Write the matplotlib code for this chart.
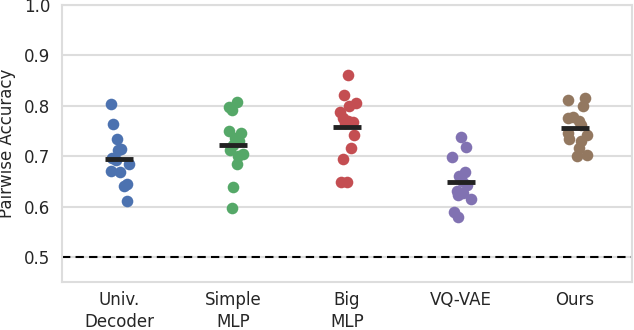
import numpy as np
import matplotlib
matplotlib.use("Agg")
import matplotlib.pyplot as plt
import seaborn as sns

categories = ["Univ.\nDecoder", "Simple\nMLP", "Big\nMLP", "VQ-VAE", "Ours"]
colors = ["#4C72B0", "#55A868", "#C44E52", "#8172B2", "#937860"]

# per-run accuracies
univ = [0.804, 0.763, 0.735, 0.715, 0.712, 0.697, 0.693, 0.684, 0.670, 0.669, 0.644, 0.640, 0.611]
simple = [0.808, 0.797, 0.792, 0.750, 0.745, 0.737, 0.730, 0.722, 0.713, 0.705, 0.700, 0.684, 0.638, 0.598]
big = [0.862, 0.822, 0.806, 0.800, 0.787, 0.775, 0.770, 0.767, 0.765, 0.741, 0.716, 0.694, 0.648, 0.648]
vqvae = [0.738, 0.718, 0.699, 0.668, 0.661, 0.650, 0.643, 0.630, 0.627, 0.622, 0.615, 0.590, 0.580]
ours = [0.815, 0.812, 0.800, 0.778, 0.775, 0.770, 0.762, 0.745, 0.742, 0.734, 0.731, 0.716, 0.703, 0.700]

# horizontal jitter of each point (as seen in the picture)
univ_jit = [-0.07, -0.05, -0.02, 0.02, -0.01, -0.06, -0.03, 0.09, -0.07, 0.01, 0.07, 0.04, 0.07]
simple_jit = [0.03, -0.04, -0.01, -0.04, 0.07, 0.02, 0.05, 0.0, -0.03, 0.09, 0.04, 0.03, 0.0, -0.01]
big_jit = [0.01, -0.03, 0.08, 0.02, -0.06, -0.04, 0.01, 0.05, -0.02, 0.06, 0.03, -0.04, -0.05, 0.0]
vqvae_jit = [0.0, 0.04, -0.08, 0.03, -0.02, 0.01, 0.05, -0.04, 0.02, -0.03, 0.09, -0.06, -0.03]
ours_jit = [0.09, -0.06, 0.07, -0.02, -0.06, 0.03, 0.05, -0.06, 0.1, -0.05, 0.05, 0.03, 0.1, 0.02]

chance = 0.5

sns.set_style("whitegrid")
plt.rcParams['font.family'] = ['DejaVu Sans']

fig, ax = plt.subplots(figsize=(6.34, 3.3), dpi=100)

groups = [univ, simple, big, vqvae, ours]
jits = [univ_jit, simple_jit, big_jit, vqvae_jit, ours_jit]
for i, (vals, jit) in enumerate(zip(groups, jits)):
    x = i + np.array(jit)
    ax.scatter(x, vals, s=70, color=colors[i], zorder=3, linewidths=0)
    ax.hlines(np.mean(vals), i - 0.125, i + 0.125, color="#222222", lw=3.5, zorder=4)

ax.axhline(chance, color="black", ls="--", lw=1.5, dashes=(4, 2.5), zorder=2)

ax.set_xlim(-0.5, 4.5)
ax.set_ylim(0.45, 1.0)
ax.set_yticks([0.5, 0.6, 0.7, 0.8, 0.9, 1.0])
ax.set_xticks(range(len(categories)))
ax.set_xticklabels(categories, fontsize=12, color="#262626", linespacing=1.3)
ax.tick_params(axis="y", labelsize=12, labelcolor="#262626", pad=5)
ax.tick_params(axis="x", pad=3)
ax.xaxis.grid(False)
ax.yaxis.grid(True, color="#dddddd", lw=1.5)
ax.set_ylabel("Pairwise Accuracy", fontsize=12, color="#262626", labelpad=6)
for s in ax.spines.values():
    s.set_color("#dddddd")
    s.set_linewidth(1.5)

fig.subplots_adjust(left=0.098, right=0.997, top=0.985, bottom=0.145)
fig.savefig("out.png", dpi=100)
